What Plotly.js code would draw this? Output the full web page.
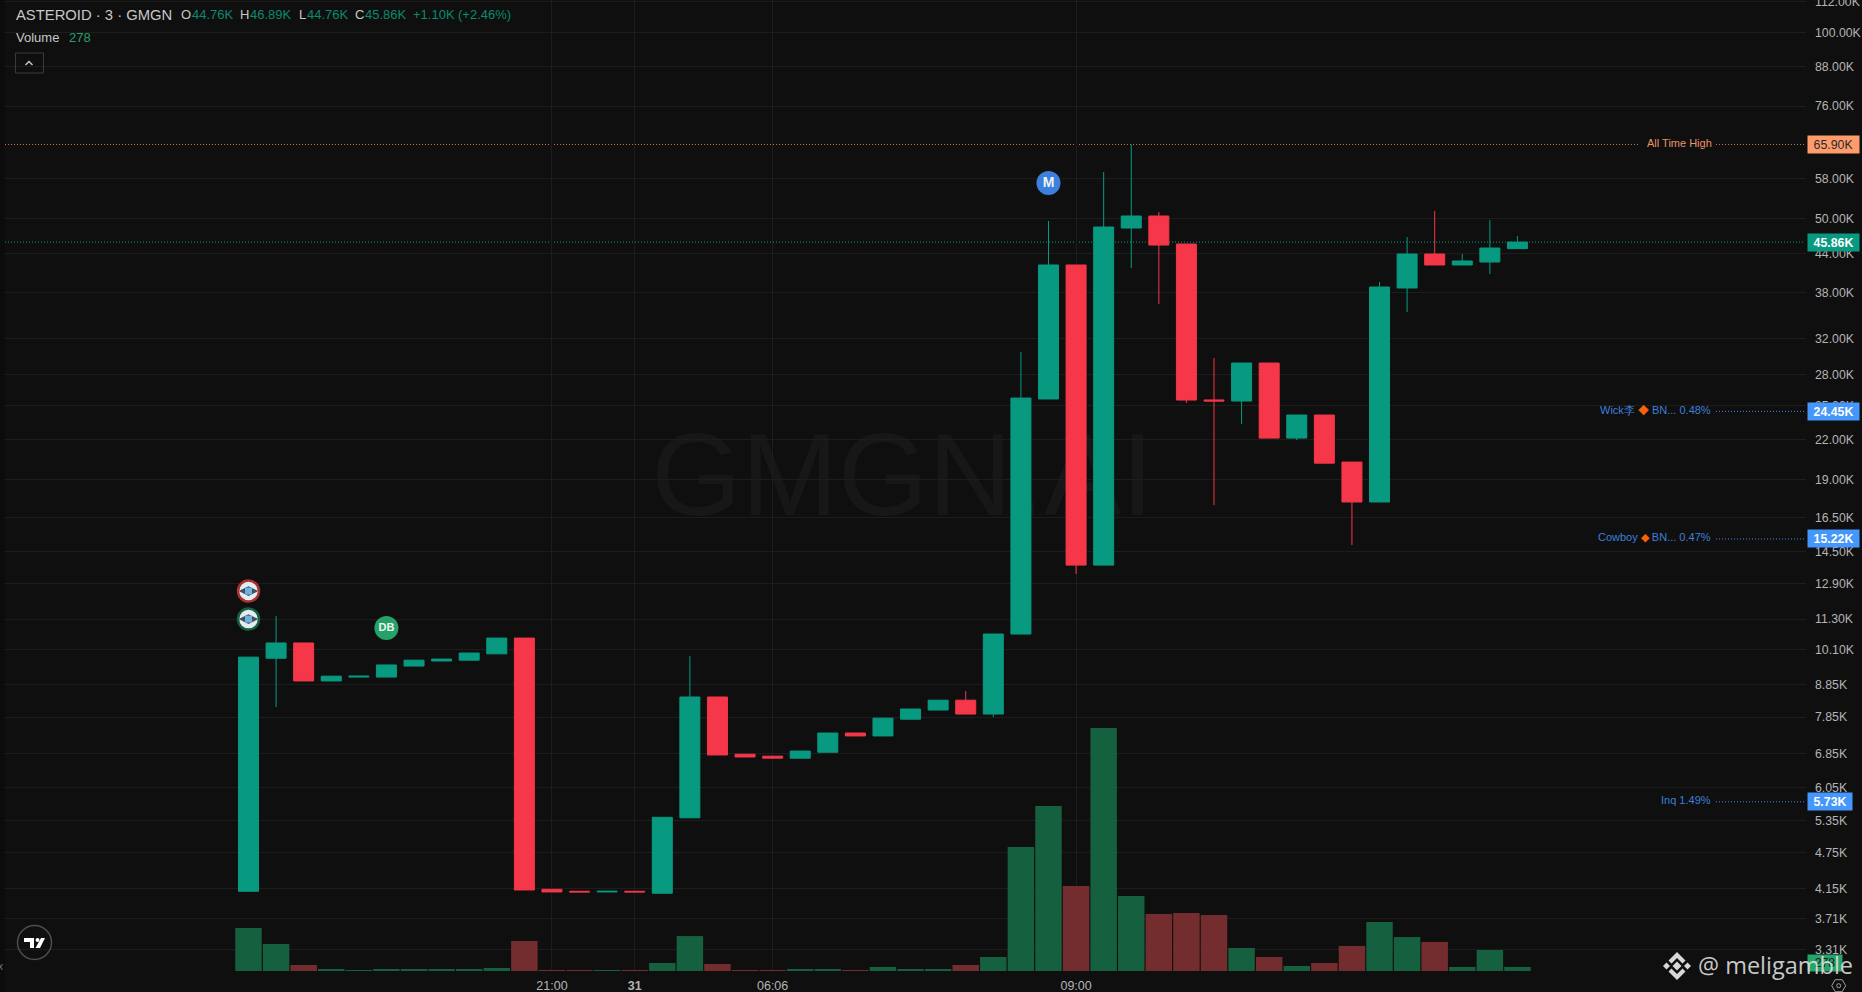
<!DOCTYPE html>
<html>
<head>
<meta charset="utf-8">
<script src="https://cdn.plot.ly/plotly-3.0.1.min.js"></script>
<style>
html, body { margin: 0; padding: 0; background: #0f0f0f; overflow: hidden; }
#chart { width: 1862px; height: 992px; }
</style>
</head>
<body>
<div id="chart"></div>
<script>
// candles, values in thousands
const opens = [4.11, 9.77, 10.34, 8.98, 9.11, 9.11, 9.49, 9.67, 9.70, 9.93, 10.53, 4.14, 4.11, 4.10, 4.11, 4.08, 5.40, 8.46, 6.84, 6.79, 6.74, 6.89, 7.40, 7.32, 7.79, 8.06, 8.36, 7.94, 10.69, 25.60, 42.12, 13.81, 48.32, 50.53, 45.53, 25.51, 25.41, 29.26, 22.14, 24.12, 20.25, 17.46, 38.67, 43.87, 42.12, 42.59, 44.76];
const closes = [9.81, 10.34, 8.98, 9.14, 9.14, 9.53, 9.70, 9.74, 9.96, 10.53, 4.13, 4.10, 4.10, 4.11, 4.10, 5.41, 8.46, 6.82, 6.77, 6.74, 6.92, 7.40, 7.32, 7.82, 8.09, 8.36, 7.94, 10.69, 25.69, 42.12, 13.81, 48.50, 50.53, 45.36, 25.50, 25.41, 29.26, 22.14, 24.12, 20.17, 17.46, 38.81, 43.87, 42.12, 42.75, 44.86, 45.86];
const highs = [9.81, 11.43, 10.34, 9.14, 9.14, 9.53, 9.70, 9.74, 9.96, 10.53, 10.53, 4.14, 4.11, 4.11, 4.11, 5.41, 9.85, 8.46, 6.84, 6.79, 6.92, 7.40, 7.40, 7.82, 8.09, 8.36, 8.65, 10.69, 30.48, 49.60, 42.12, 59.50, 65.90, 51.28, 45.53, 29.81, 29.26, 29.26, 24.12, 24.12, 20.25, 39.54, 46.74, 51.47, 43.87, 49.78, 46.89];
const lows = [4.11, 8.15, 8.98, 8.98, 9.11, 9.11, 9.49, 9.67, 9.70, 9.93, 4.13, 4.10, 4.10, 4.10, 4.10, 4.08, 5.40, 6.82, 6.77, 6.74, 6.74, 6.89, 7.32, 7.32, 7.79, 8.06, 7.94, 7.85, 10.69, 25.60, 13.36, 13.81, 41.65, 36.43, 25.22, 17.26, 23.33, 22.14, 21.98, 20.17, 14.88, 17.46, 35.37, 42.12, 42.12, 40.73, 44.76];
const volumes = [2990, 1880, 417, 139, 70, 139, 139, 139, 139, 209, 2085, 70, 70, 70, 70, 556, 2430, 487, 70, 70, 139, 139, 70, 278, 139, 139, 417, 973, 8620, 11470, 5910, 16890, 5210, 3960, 4030, 3890, 1600, 973, 348, 556, 1740, 3410, 2360, 2020, 278, 1460, 278];

const priceTicks = [112, 100, 88, 76, 58, 50, 44, 38, 32, 28, 25, 22, 19, 16.5, 14.5, 12.9, 11.3, 10.1, 8.85, 7.85, 6.85, 6.05, 5.35, 4.75, 4.15, 3.71, 3.31];
const timeTickAt = [11, 14, 19, 30];
const timeTickText = ['21:00', '<b>31</b>', '06:06', '09:00'];

const bubbleX = [5, 29];
const bubbleY = [10.93, 57.1];
const bubbleText = ['DB', '<b>M</b>'];
const bubbleColor = ['#25a268', '#3a80dc'];
const avatarX = [0, 0];
const avatarY = [12.54, 11.30];
const avatarRing = ['#a8322f', '#17603f'];

const GREEN = '#089a80', RED = '#f53749';
const VOL_GREEN = '#15603e', VOL_RED = '#742d2f';
const BG = '#0f0f0f', GRID = '#1d1d1d', TXT = '#b4b4b4';
const FONT = '"Liberation Sans", Arial, sans-serif';

const W = 1862, H = 992, ML = 5, MR = 56, MB = 21;
const fx = p => (p - ML) / (W - ML - MR);
const fy = p => (H - MB - p) / (H - MB);

const xs = opens.map((_, i) => i);

function txt(px, py, text, size, color, anchor, extra) {
    return Object.assign({
        xref: 'paper', yref: 'paper', x: fx(px), y: fy(py), text: text, showarrow: false,
        xanchor: anchor || 'left', yanchor: 'middle', borderpad: 0,
        font: { family: FONT, size: size, color: color }
    }, extra || {});
}
function tag(value, text, bg, color, w) {
    return {
        xref: 'paper', yref: 'y', x: fx(1807), y: Math.log10(value * 1000), text: text, showarrow: false,
        xanchor: 'left', yanchor: 'middle', width: w, height: 17, align: 'center', valign: 'middle',
        bgcolor: bg, borderpad: 0, font: { family: FONT, size: 12.3, color: color }
    };
}
function poly(cx, cy, pts, open) {
    return 'M' + pts.map(p => fx(cx + p[0]) + ' ' + fy(cy + p[1])).join(' L') + (open ? '' : ' Z');
}
function pathShape(path, fill, line, lw) {
    return {
        type: 'path', xref: 'paper', yref: 'paper', path: path, fillcolor: fill || 'rgba(0,0,0,0)',
        line: { color: line || 'rgba(0,0,0,0)', width: lw || 0 }
    };
}
function circleShape(cx, cy, r, line, lw) {
    return {
        type: 'circle', xref: 'paper', yref: 'paper', x0: fx(cx - r), x1: fx(cx + r), y0: fy(cy + r), y1: fy(cy - r),
        line: { color: line, width: lw }
    };
}
function dotLine(p0, p1, value, color) {
    return {
        type: 'line', layer: 'below', xref: 'paper', yref: 'y', x0: fx(p0), x1: fx(p1), y0: value * 1000, y1: value * 1000,
        line: { color: color, width: 1, dash: '1px,2px' }
    };
}

const traces = [
    {
        type: 'bar', x: xs, y: volumes, yaxis: 'y2', width: 0.96, hoverinfo: 'skip',
        marker: { color: closes.map((c, i) => c >= opens[i] ? VOL_GREEN : VOL_RED), line: { width: 0 } }
    },
    {
        type: 'candlestick', x: xs, hoverinfo: 'skip', whiskerwidth: 0,
        open: opens.map(v => v * 1000), high: highs.map(v => v * 1000),
        low: lows.map(v => v * 1000), close: closes.map(v => v * 1000),
        increasing: { fillcolor: GREEN, line: { color: GREEN, width: 1 } },
        decreasing: { fillcolor: RED, line: { color: RED, width: 1 } }
    },
    {
        type: 'scatter', mode: 'markers+text', x: bubbleX, y: bubbleY.map(v => v * 1000), text: bubbleText,
        textposition: 'middle center', hoverinfo: 'skip',
        textfont: { family: FONT, size: [11, 14], color: '#eef4f2', weight: 'bold' },
        marker: { size: 24, color: bubbleColor, line: { width: 0 } }
    },
    {
        type: 'scatter', mode: 'markers', x: avatarX, y: avatarY.map(v => v * 1000), hoverinfo: 'skip',
        marker: { size: 21, color: '#e4edf2', line: { width: 2.5, color: avatarRing } }
    },
    {
        type: 'scatter', mode: 'markers', x: avatarX, y: avatarY.map(v => v * 1000), hoverinfo: 'skip',
        marker: { size: 14, symbol: 'diamond-wide', color: '#46505c' }
    },
    {
        type: 'scatter', mode: 'markers', x: avatarX, y: avatarY.map(v => v * 1000), hoverinfo: 'skip',
        marker: { size: 7, symbol: 'square', color: '#6cb4e0' }
    }
];

const binance = [
    [[-4.5, 0], [0, -4.5], [4.5, 0], [0, 4.5]],
    [[-14, 0], [-10.5, -3.5], [-7, 0], [-10.5, 3.5]],
    [[14, 0], [10.5, -3.5], [7, 0], [10.5, 3.5]],
    [[-8.5, -5.5], [0, -14], [8.5, -5.5], [5.5, -2.5], [0, -8], [-5.5, -2.5]],
    [[-8.5, 5.5], [0, 14], [8.5, 5.5], [5.5, 2.5], [0, 8], [-5.5, 2.5]]
];

const shapes = [
    { type: 'rect', layer: 'below', xref: 'paper', yref: 'paper', x0: fx(0), x1: fx(5), y0: 0 - MB / (H - MB), y1: 1, fillcolor: '#0c0c0e', line: { width: 0 } },
    { type: 'rect', layer: 'below', xref: 'paper', yref: 'paper', x0: fx(5), x1: fx(97), y0: fy(48), y1: fy(25), fillcolor: BG, line: { width: 0 } },
    {
        type: 'rect', layer: 'below', xref: 'paper', yref: 'paper', x0: fx(655), x1: fx(1150), y0: fy(511), y1: fy(416),
        fillcolor: 'rgba(0,0,0,0)', line: { width: 0 },
        label: { text: 'GMGN.AI', textposition: 'middle center', font: { family: FONT, size: 116, color: 'rgba(255,255,255,0.035)' } }
    },
    dotLine(5, 1639, 65.9, '#c07a55'),
    dotLine(1716, 1805, 65.9, '#c07a55'),
    dotLine(5, 1805, 45.86, '#0f9a80'),
    dotLine(1716, 1805, 24.45, '#4a88dd'),
    dotLine(1716, 1805, 15.22, '#4a88dd'),
    dotLine(1716, 1805, 5.73, '#4a88dd'),
    // collapse button
    { type: 'rect', xref: 'paper', yref: 'paper', x0: fx(15.5), x1: fx(43.5), y0: fy(73), y1: fy(53), line: { color: '#3a3a3a', width: 1 } },
    pathShape(poly(29, 63, [[-3.5, 2], [0, -1.5], [3.5, 2]], true), null, '#c4c4c4', 1.5),
    // tradingview badge
    circleShape(34.5, 942.5, 17, '#4d4d4d', 1.5),
    pathShape(poly(0, 0, [[24, 938], [34, 938], [34, 948], [30, 948], [30, 942], [24, 942]]), '#ffffff'),
    pathShape(poly(0, 0, [[41, 938], [45, 938], [40, 948], [35.5, 948]]), '#ffffff'),
    circleShape(37.5, 940, 1, '#ffffff', 2),
    // settings icon
    pathShape(poly(1838.7, 985.7, [[-7, 0], [-3.5, -6], [3.5, -6], [7, 0], [3.5, 6], [-3.5, 6]]), null, '#a0a0a0', 1),
    circleShape(1838.7, 985.7, 2, '#a0a0a0', 1)
];
binance.forEach(b => shapes.push(pathShape(poly(1677, 966, b), '#d8d8d8')));

const HG = '#0a8a6e';
const annotations = [
    txt(15, 14.5, 'ASTEROID · 3 · GMGN', 14.8, '#c8c8c8'),
    txt(180, 14.5, 'O', 13, '#c8c8c8'), txt(190.5, 14.5, '44.76K', 13, HG),
    txt(239, 14.5, 'H', 13, '#c8c8c8'), txt(249, 14.5, '46.89K', 13, HG),
    txt(297.5, 14.5, 'L', 13, '#c8c8c8'), txt(306, 14.5, '44.76K', 13, HG),
    txt(354, 14.5, 'C', 13, '#c8c8c8'), txt(364, 14.5, '45.86K', 13, HG),
    txt(412, 14.5, '+1.10K', 13, HG), txt(457, 14.5, '(+2.46%)', 13, HG),
    txt(15, 38, 'Volume', 13, '#c8c8c8'), txt(68, 38, '278', 13, '#22a06b'),
    txt(1712.5, 143.5, 'All Time High', 11, '#e8946a', 'right'),
    txt(1712, 410, 'Wick李 <span style="color:#f5640a">◆</span> BN... 0.48%', 11, '#3d7fd9', 'right'),
    txt(1712, 537, 'Cowboy <span style="color:#f5640a">◆</span> BN... 0.47%', 11, '#3d7fd9', 'right'),
    txt(1712, 800, 'Inq 1.49%', 11, '#3d7fd9', 'right'),
    tag(65.9, '65.90K', '#ff9c6b', '#2a2a2a', 51),
    tag(45.86, '<b>45.86K</b>', '#089a80', '#ffffff', 51),
    tag(24.45, '<b>24.45K</b>', '#4597fb', '#ffffff', 51),
    tag(15.22, '<b>15.22K</b>', '#4597fb', '#ffffff', 51),
    tag(5.73, '<b>5.73K</b>', '#4597fb', '#ffffff', 44),
    Object.assign(txt(1807, 963, '278', 12.3, '#1b1b1b'), { width: 34, height: 16, align: 'center', valign: 'middle', bgcolor: '#25a56a' }),
    txt(1696.5, 965, '@ meligamble', 23.5, 'rgba(226,226,226,0.88)', 'left', { font: { family: '"Open Sans", sans-serif', size: 23.5, color: 'rgba(226,226,226,0.88)' } }),
    txt(-3, 966, 'x', 10, '#777777')
];

const layout = {
    width: W, height: H,
    margin: { l: ML, r: MR, t: 0, b: MB, pad: 0 },
    paper_bgcolor: BG, plot_bgcolor: BG,
    showlegend: false, hovermode: false, boxgap: 0.275, boxgroupgap: 0,
    font: { family: FONT, color: TXT },
    xaxis: {
        type: 'linear', range: [-8.827, 56.46], rangeslider: { visible: false },
        tickmode: 'array', tickvals: timeTickAt, ticktext: timeTickText,
        ticks: 'outside', ticklen: 3, tickcolor: 'rgba(0,0,0,0)',
        showgrid: true, gridcolor: GRID, gridwidth: 1, zeroline: false, showline: false,
        tickfont: { family: FONT, size: 12.5, color: TXT }
    },
    yaxis: {
        type: 'log', side: 'right', range: [3.4852, 5.0521],
        tickmode: 'array', tickvals: priceTicks.map(v => v * 1000), ticktext: priceTicks.map(v => v.toFixed(2) + 'K'),
        ticks: 'outside', ticklen: 5.5, tickcolor: 'rgba(0,0,0,0)', ticklabeloverflow: 'allow',
        showgrid: true, gridcolor: GRID, gridwidth: 1, zeroline: false, showline: false,
        tickfont: { family: FONT, size: 12.3, color: TXT }
    },
    yaxis2: { overlaying: 'y', side: 'right', range: [0, 67485], visible: false, showgrid: false, zeroline: false },
    shapes: shapes,
    annotations: annotations
};

Plotly.newPlot('chart', traces, layout, { displayModeBar: false, staticPlot: true });
</script>
</body>
</html>
